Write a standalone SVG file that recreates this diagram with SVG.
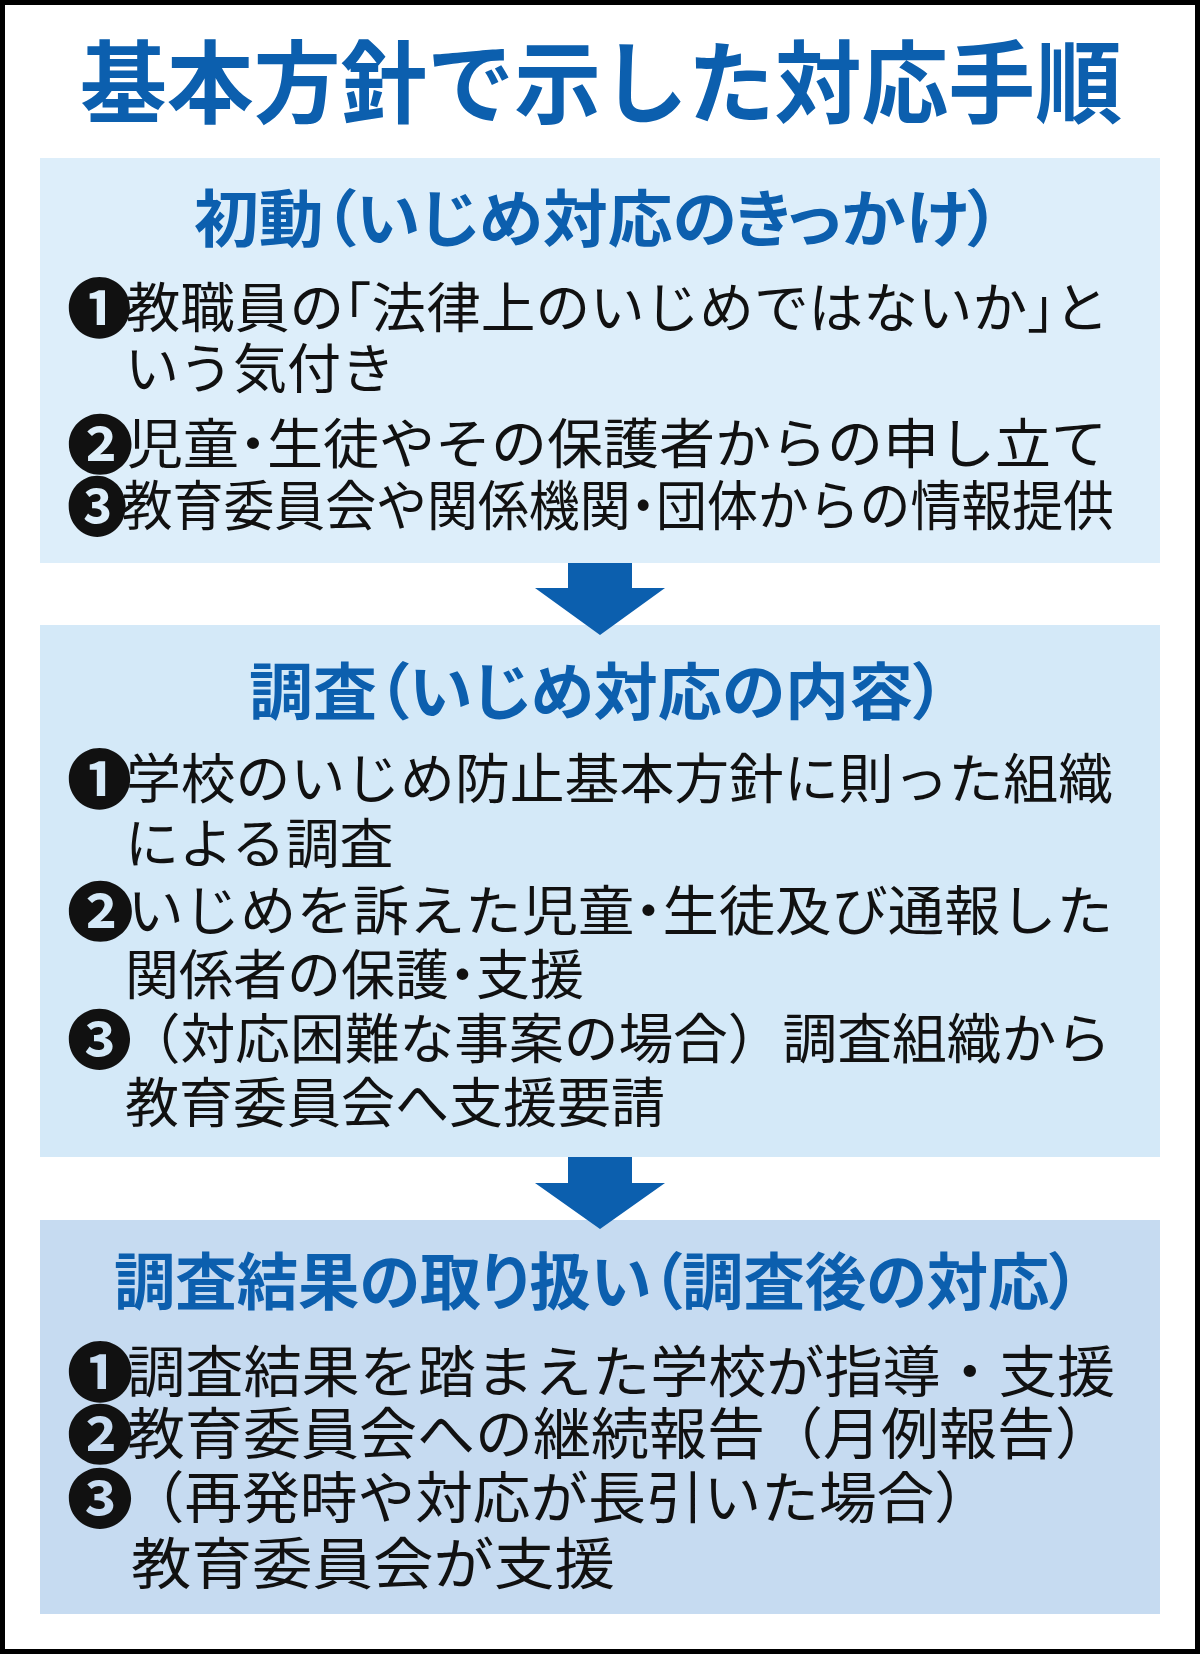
<svg xmlns="http://www.w3.org/2000/svg" width="1200" height="1654" viewBox="0 0 1200 1654">
<style>
text { font-family: "Noto Sans CJK JP", "Noto Sans CJK SC", sans-serif; }
.title { font-size: 90px; font-weight: 700; fill: #0c5fae; }
.head { font-size: 62px; font-weight: 700; fill: #0c5fae; font-feature-settings: "palt"; }
.body { font-size: 54px; font-weight: 400; fill: #111; }
.b3 { font-size: 56px; font-weight: 400; fill: #111; }
.halt { font-feature-settings: "halt"; }
.num { font-size: 64px; font-weight: 700; }
.arrow { fill: #0c5fae; }
</style>
<rect x="0" y="0" width="1200" height="1654" fill="#ffffff"/>
<rect x="2.5" y="2.5" width="1195" height="1649" fill="none" stroke="#000" stroke-width="5"/>

<g id="title">
<text class="title" x="80" y="116" textLength="1042" lengthAdjust="spacingAndGlyphs">基本方針で示した対応手順</text>
</g>

<g id="box1">
<rect x="40" y="158" width="1120" height="405" fill="#ddeefa"/>
<text class="head" x="194" y="242" textLength="806" lengthAdjust="spacingAndGlyphs">初動（いじめ対応のきっかけ）</text>
<text class="body halt" x="67" y="328" textLength="1042" lengthAdjust="spacingAndGlyphs"><tspan class="num" dy="4">❶</tspan><tspan dy="-4" dx="-6">教職員の「法律上のいじめではないか」と</tspan></text>
<text class="body" x="125" y="389">いう気付き</text>
<text class="body halt" x="67" y="464" textLength="1040" lengthAdjust="spacingAndGlyphs"><tspan class="num" dy="4">❷</tspan><tspan dy="-4" dx="-6">児童・生徒やその保護者からの申し立て</tspan></text>
<text class="body halt" x="67" y="526" textLength="1047" lengthAdjust="spacingAndGlyphs"><tspan class="num" dy="4">❸</tspan><tspan dy="-4" dx="-6">教育委員会や関係機関・団体からの情報提供</tspan></text>
</g>

<g id="box2">
<rect x="40" y="625" width="1120" height="532" fill="#d4e9f8"/>
<text class="head" x="249" y="715" textLength="696" lengthAdjust="spacingAndGlyphs">調査（いじめ対応の内容）</text>
<text class="body" x="67" y="799" textLength="1046" lengthAdjust="spacingAndGlyphs"><tspan class="num" dy="4">❶</tspan><tspan dy="-4" dx="-6">学校のいじめ防止基本方針に則った組織</tspan></text>
<text class="body" x="125" y="864">による調査</text>
<text class="body halt" x="67" y="931" textLength="1046" lengthAdjust="spacingAndGlyphs"><tspan class="num" dy="4">❷</tspan><tspan dy="-4" dx="-6">いじめを訴えた児童・生徒及び通報した</tspan></text>
<text class="body halt" x="125" y="995">関係者の保護・支援</text>
<text class="body" x="67" y="1059" textLength="1044" lengthAdjust="spacingAndGlyphs"><tspan class="num" dy="4">❸</tspan><tspan dy="-4" dx="-6">（対応困難な事案の場合）調査組織から</tspan></text>
<text class="body" x="125" y="1123">教育委員会へ支援要請</text>
</g>

<g id="box3">
<rect x="40" y="1220" width="1120" height="394" fill="#c6dbf1"/>
<text class="head" x="114" y="1305" textLength="966" lengthAdjust="spacingAndGlyphs">調査結果の取り扱い（調査後の対応）</text>
<text class="b3" x="67" y="1392" textLength="1048" lengthAdjust="spacingAndGlyphs"><tspan class="num" dy="4">❶</tspan><tspan dy="-4" dx="-6">調査結果を踏まえた学校が指導・支援</tspan></text>
<text class="b3" x="67" y="1454" textLength="1046" lengthAdjust="spacingAndGlyphs"><tspan class="num" dy="4">❷</tspan><tspan dy="-4" dx="-6">教育委員会への継続報告（月例報告）</tspan></text>
<text class="b3" x="67" y="1518" textLength="925" lengthAdjust="spacingAndGlyphs"><tspan class="num" dy="4">❸</tspan><tspan dy="-4" dx="-6">（再発時や対応が長引いた場合）</tspan></text>
<text class="b3" x="131" y="1584" textLength="484" lengthAdjust="spacingAndGlyphs">教育委員会が支援</text>
</g>

<g id="connectors">
<polygon class="arrow" points="568,563 632,563 632,588 665,588 600,635 535,588 568,588"/>
<polygon class="arrow" points="568,1157 632,1157 632,1183 665,1183 600,1229 535,1183 568,1183"/>
</g>
</svg>
